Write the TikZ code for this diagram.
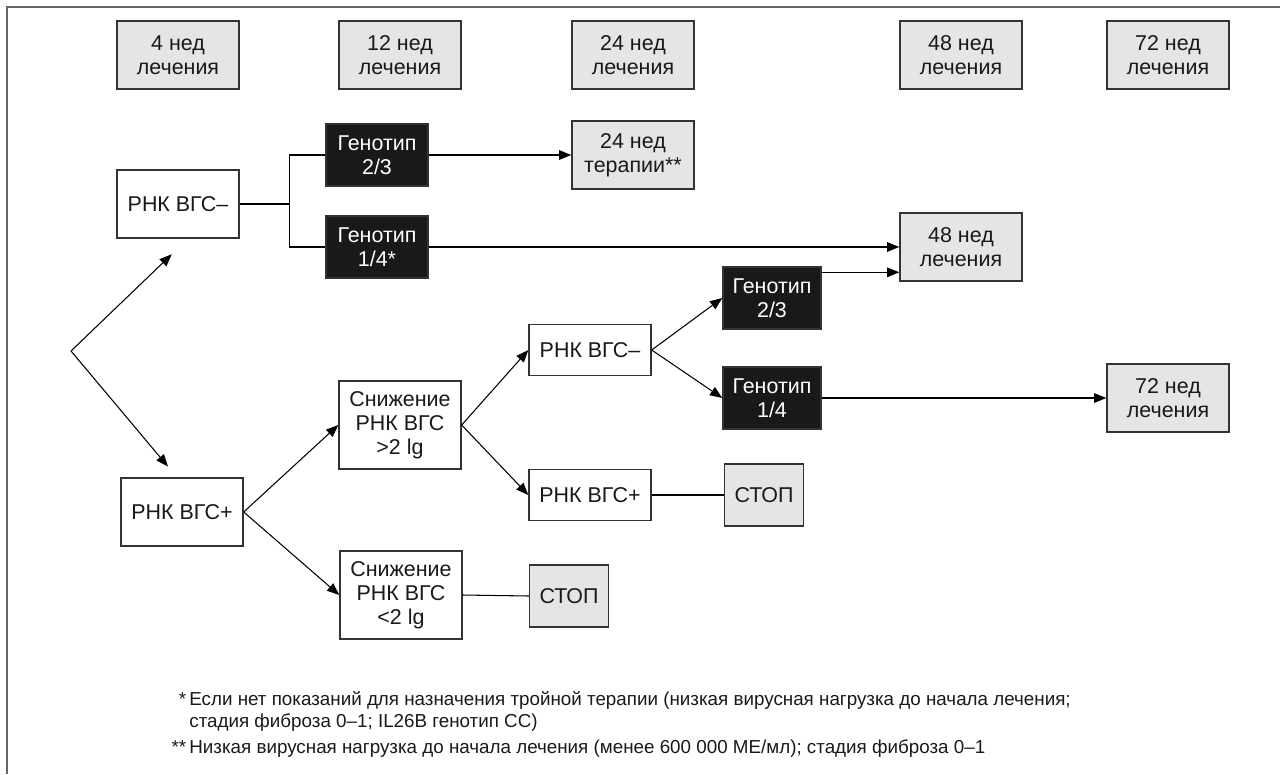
\documentclass[tikz,border=0pt]{standalone}
\usepackage{fontspec}
\setmainfont{Liberation Sans}
\usetikzlibrary{arrows.meta}
\usetikzlibrary{calc}

\begin{document}
\begin{tikzpicture}[x=0.02cm, y=-0.02cm, >={Triangle[length=7pt, width=5.5pt]}]
	\tikzstyle{box} = [rectangle, draw=black!80, line width=0.8pt, text centered, align=center, inner sep=0pt, text=black!90, font=\fontsize{12.2}{13.6}\selectfont]
	\tikzstyle{week} = [box, fill=black!10, minimum width=2.44cm, minimum height=1.36cm]
	\tikzstyle{rna} = [box, fill=white, minimum width=2.44cm, minimum height=1.36cm]
	\tikzstyle{rnasmall} = [rna, minimum height=1.02cm]
	\tikzstyle{reduce} = [box, fill=white, minimum width=2.44cm, minimum height=1.76cm]
	\tikzstyle{geno} = [box, fill=black!90, text=white, minimum width=2.04cm, minimum height=1.24cm]
	\tikzstyle{stopbox} = [box, fill=black!10, minimum width=1.58cm, minimum height=1.24cm]
	\tikzstyle{note} = [anchor=west, align=left, inner sep=0pt, text=black!90, font=\fontsize{10.7}{12.5}\selectfont]
	\useasboundingbox (0, 0) rectangle (1280, 774);
	\draw[black!60, line width=1.1pt] (7, 774) -- (7, 7) -- (1280, 7);
	\node (wk4)[week] at (178, 55) {4 нед\\лечения};
	\node (wk12)[week] at (400, 55) {12 нед\\лечения};
	\node (wk24)[week] at (633, 55) {24 нед\\лечения};
	\node (wk48)[week] at (961, 55) {48 нед\\лечения};
	\node (wk72)[week] at (1168, 55) {72 нед\\лечения};
	\node (rnaneg)[rna] at (178, 204) {РНК ВГС–};
	\node (rnapos)[rna] at (182, 512) {РНК ВГС+};
	\node (genoA)[geno] at (377, 155) {Генотип\\2/3};
	\node (genoB)[geno] at (377, 247) {Генотип\\1/4*};
	\node (ther24)[week] at (633, 155) {24 нед\\терапии**};
	\node (end48)[week] at (961, 247) {48 нед\\лечения};
	\node (dropA)[reduce] at (400, 425) {Снижение\\РНК ВГС\\>2 lg};
	\node (dropB)[reduce] at (401, 595) {Снижение\\РНК ВГС\\<2 lg};
	\node (rnaneg2)[rnasmall] at (590, 350) {РНК ВГС–};
	\node (rnapos2)[rnasmall] at (590, 495) {РНК ВГС+};
	\node (genoC)[geno, minimum width=1.96cm] at (772, 298) {Генотип\\2/3};
	\node (genoD)[geno, minimum width=1.96cm] at (772, 398) {Генотип\\1/4};
	\node (end72)[week] at (1168, 398) {72 нед\\лечения};
	\node (stopA)[stopbox] at (764, 495) {СТОП};
	\node (stopB)[stopbox] at (569, 596) {СТОП};
	\coordinate (fork) at (71, 351);
	\draw[line width=0.6pt, ->, shorten >=0.45cm] (fork) -- ([xshift=0.2cm]rnaneg.south);
	\draw[line width=0.6pt, ->, shorten >=0.28cm] (fork) -- ([xshift=-0.1cm]rnapos.north);
	\draw[line width=0.6pt] (rnaneg.east) -- ++(50, 0) coordinate (split);
	\draw[line width=0.6pt] (genoA.west) -| (split |- genoB.west) -- (genoB.west);
	\draw[line width=0.6pt, ->] (genoA.east) -- (ther24.west);
	\draw[line width=0.6pt, ->] (genoB.east) -- (end48.west);
	\coordinate (exitC) at ([yshift=-0.12cm]genoC.north east);
	\draw[line width=0.6pt, ->] (exitC) -- (exitC -| end48.west);
	\draw[line width=0.6pt, ->] (genoD.east) -- (end72.west);
	\draw[line width=0.6pt, ->] (rnaneg2.east) -- (genoC.west);
	\draw[line width=0.6pt, ->] (rnaneg2.east) -- (genoD.west);
	\draw[line width=0.6pt, ->] (dropA.east) -- (rnaneg2.west);
	\draw[line width=0.6pt, ->] (dropA.east) -- (rnapos2.west);
	\draw[line width=0.6pt, ->] (rnapos.east) -- (dropA.west);
	\draw[line width=0.6pt, ->] (rnapos.east) -- (dropB.west);
	\draw[line width=0.6pt] (rnapos2.east) -- (stopA.west);
	\draw[line width=0.6pt] (dropB.east) -- (stopB.west);
	\node (noteA)[note] at (189, 711) {\llap{*\,}Если нет показаний для назначения тройной терапии (низкая вирусная нагрузка до начала лечения;\\стадия фиброза 0–1; IL26B генотип CC)};
	\node (noteB)[note] at (189, 749) {\llap{**\,}Низкая вирусная нагрузка до начала лечения (менее 600 000 МЕ/мл); стадия фиброза 0–1};
\end{tikzpicture}
\end{document}
